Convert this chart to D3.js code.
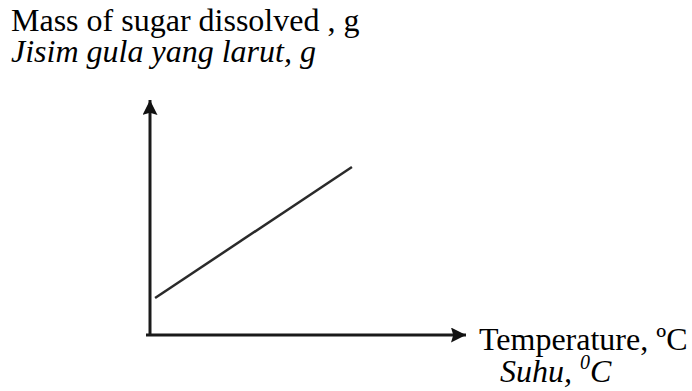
<!DOCTYPE html>
<html>
<head>
<meta charset="utf-8">
<script src="https://cdn.jsdelivr.net/npm/d3@7"></script>
<style>
  body { margin: 0; background: #fff; }
</style>
</head>
<body>
<div id="chart-area"></div>
<script>
// sketch graph: mass of sugar dissolved rises with temperature (no scale)
var temperature = [0.16, 6.35];
var mass = [1.56, 7.09];
var xDomain = [0, 10];
var yDomain = [0, 10];

var width = 692;
var height = 391;
var origin = { x: 150, y: 335 };
var xEnd = 468;
var yEnd = 98;

var svg = d3.select("#chart-area")
  .append("svg")
  .attr("width", width)
  .attr("height", height);

var defs = svg.append("defs");
defs.append("marker")
  .attr("id", "arrow")
  .attr("viewBox", "0 0 10 10")
  .attr("refX", 10)
  .attr("refY", 5)
  .attr("markerUnits", "userSpaceOnUse")
  .attr("markerWidth", 16)
  .attr("markerHeight", 15)
  .attr("orient", "auto")
  .append("path")
  .attr("d", "M0,0L10,5L0,10L1.5,5Z")
  .attr("fill", "#111");

var x = d3.scaleLinear().domain(xDomain).range([origin.x, xEnd]);
var y = d3.scaleLinear().domain(yDomain).range([origin.y, yEnd]);

// axes without ticks, just the arrowed lines
var xAxisGroup = svg.append("g")
  .attr("transform", "translate(0," + origin.y + ")")
  .call(d3.axisBottom(x).ticks(0).tickSize(0).tickSizeOuter(0));
xAxisGroup.select(".domain")
  .attr("stroke", "#1a1a1a")
  .attr("stroke-width", 3)
  .attr("d", "M" + (origin.x - 4) + ",0H" + (xEnd - 2))
  .attr("marker-end", "url(#arrow)");

var yAxisGroup = svg.append("g")
  .attr("transform", "translate(" + origin.x + ",0)")
  .call(d3.axisLeft(y).ticks(0).tickSize(0).tickSizeOuter(0));
yAxisGroup.select(".domain")
  .attr("stroke", "#1a1a1a")
  .attr("stroke-width", 3)
  .attr("d", "M0," + (origin.y + 1) + "V" + (yEnd + 2))
  .attr("marker-end", "url(#arrow)");

var line = d3.line()
  .x((d, i) => x(temperature[i]))
  .y((d, i) => y(mass[i]));

svg.append("path")
  .datum(temperature)
  .attr("d", line)
  .attr("fill", "none")
  .attr("stroke", "#2a2a2a")
  .attr("stroke-width", 2.5);

var font = "'Liberation Serif', 'Times New Roman', serif";

svg.append("text")
  .attr("x", 11)
  .attr("y", 31)
  .attr("font-family", font)
  .attr("font-size", "32px")
  .attr("fill", "#000")
  .text("Mass of sugar dissolved , g");

svg.append("text")
  .attr("x", 11)
  .attr("y", 62)
  .attr("font-family", font)
  .attr("font-size", "32px")
  .attr("font-style", "italic")
  .attr("fill", "#000")
  .text("Jisim gula yang larut, g");

svg.append("text")
  .attr("x", 479)
  .attr("y", 350)
  .attr("font-family", font)
  .attr("font-size", "32px")
  .attr("fill", "#000")
  .text("Temperature, ºC");

var suhu = svg.append("text")
  .attr("x", 500)
  .attr("y", 382)
  .attr("font-family", font)
  .attr("font-size", "32px")
  .attr("font-style", "italic")
  .attr("fill", "#000");
suhu.append("tspan").text("Suhu, ");
suhu.append("tspan").attr("font-size", "20px").attr("dy", -13).text("0");
suhu.append("tspan").attr("dy", 13).text("C");
</script>
</body>
</html>
